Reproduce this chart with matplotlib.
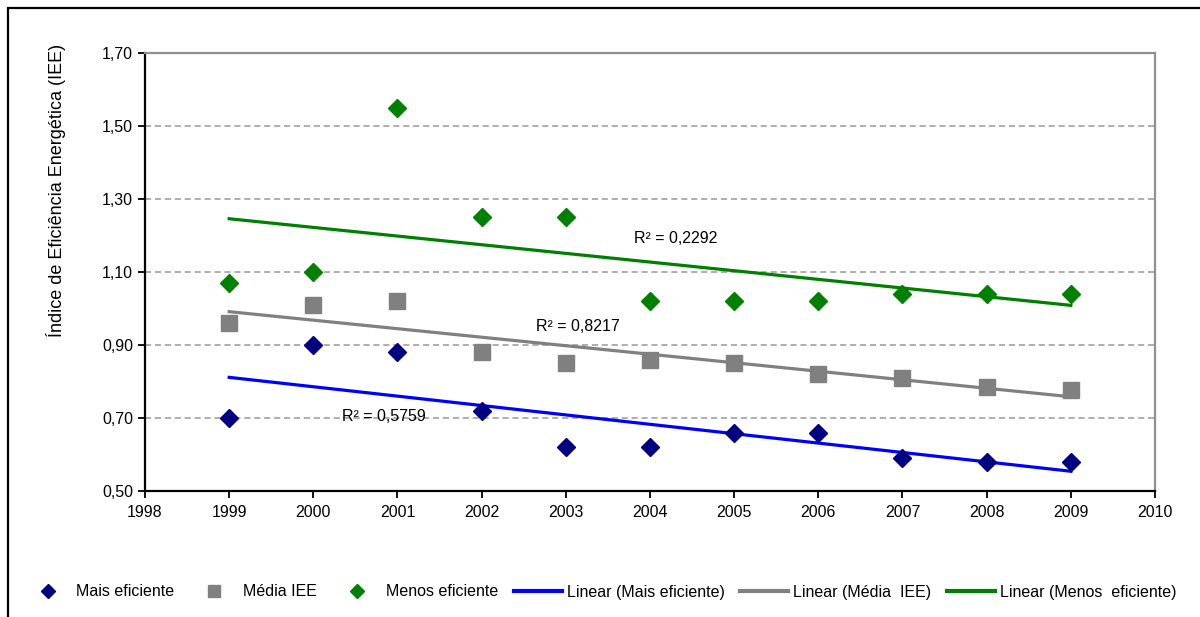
import matplotlib
matplotlib.use("Agg")
import matplotlib.pyplot as plt
import matplotlib.patches as mpatches
from matplotlib.lines import Line2D
import numpy as np

plt.rcParams['font.family'] = ['Liberation Sans', 'DejaVu Sans']

years = [1999, 2000, 2001, 2002, 2003, 2004, 2005, 2006, 2007, 2008, 2009]
mais_eficiente = [0.70, 0.90, 0.88, 0.72, 0.62, 0.62, 0.66, 0.66, 0.59, 0.58, 0.58]
media_iee = [0.96, 1.01, 1.02, 0.88, 0.85, 0.86, 0.85, 0.82, 0.81, 0.785, 0.777]
menos_eficiente = [1.07, 1.10, 1.55, 1.25, 1.25, 1.02, 1.02, 1.02, 1.04, 1.04, 1.04]
r2_labels = ["R² = 0,5759", "R² = 0,8217", "R² = 0,2292"]
r2_pos = [(2000.84, 0.705), (2003.14, 0.952), (2004.31, 1.193)]
x_ticks = list(range(1998, 2011))
y_ticks = [0.50, 0.70, 0.90, 1.10, 1.30, 1.50, 1.70]

fig = plt.figure(figsize=(12, 6.17), dpi=100)
ax = fig.add_axes([145/1200, 1-491/617, 1010/1200, 438/617])

x = np.array(years, dtype=float)
series = [
    (mais_eficiente, '#000080', 'D', 9.5, '#0000FF', 'Mais eficiente', 'Linear (Mais eficiente)'),
    (media_iee, '#808080', 's', 11, '#808080', 'Média IEE', 'Linear (Média  IEE)'),
    (menos_eficiente, '#008000', 'D', 9.5, '#008000', 'Menos eficiente', 'Linear (Menos  eficiente)'),
]
for vals, mc, m, ms, lc, _, _ in series:
    ax.plot(x, vals, linestyle='none', marker=m, color=mc, markersize=ms, zorder=3)
for vals, mc, m, ms, lc, _, _ in series:
    coef = np.polyfit(x, vals, 1)
    ax.plot([x[0], x[-1]], np.polyval(coef, [x[0], x[-1]]), color=lc, linewidth=2.3, zorder=2)

for lab, (px, py) in zip(r2_labels, r2_pos):
    ax.text(px, py, lab, ha='center', va='center', fontsize=11.5, color='black', zorder=4)

ax.set_xlim(1998, 2010)
ax.set_ylim(0.5, 1.7)
ax.set_xticks(x_ticks)
ax.set_xticklabels([str(t) for t in x_ticks])
ax.set_yticks(y_ticks)
ax.set_yticklabels([f"{v:.2f}".replace('.', ',') for v in y_ticks])
ax.tick_params(axis='both', direction='out', length=5, width=1.3, labelsize=11.5, colors='black')
ax.tick_params(axis='x', pad=5)
ax.grid(axis='y', linestyle=(0, (4, 2.5)), color='#999999', linewidth=1.1)
ax.set_axisbelow(True)
for s in ['left', 'bottom']:
    ax.spines[s].set_color('black')
    ax.spines[s].set_linewidth(1.6)
for s in ['top', 'right']:
    ax.spines[s].set_color('#909090')
    ax.spines[s].set_linewidth(1.6)
ax.set_ylabel('Índice de Eficiência Energética (IEE)', fontsize=13)
ax.yaxis.set_label_coords((66-145)/1010, (491-190)/438)

handles = []
labels = []
for vals, mc, m, ms, lc, name, _ in series:
    handles.append(Line2D([], [], linestyle='none', marker=m, color=mc, markersize=ms*0.8))
    labels.append(name)
for vals, mc, m, ms, lc, _, lname in series:
    handles.append(Line2D([], [], color=lc, linewidth=3))
    labels.append(lname)
fig.legend(handles, labels, loc='center', bbox_to_anchor=(0.5, 1-592/617), ncol=6,
           frameon=False, fontsize=11.5, handlelength=3.0, columnspacing=1.0, handletextpad=0.3)

frame = mpatches.Rectangle((8/1200, -0.2), 2.0, 1.2 - 8/617, transform=fig.transFigure,
                           fill=False, edgecolor='black', linewidth=1.6, clip_on=False)
fig.add_artist(frame)

fig.savefig('out.png', dpi=100)
